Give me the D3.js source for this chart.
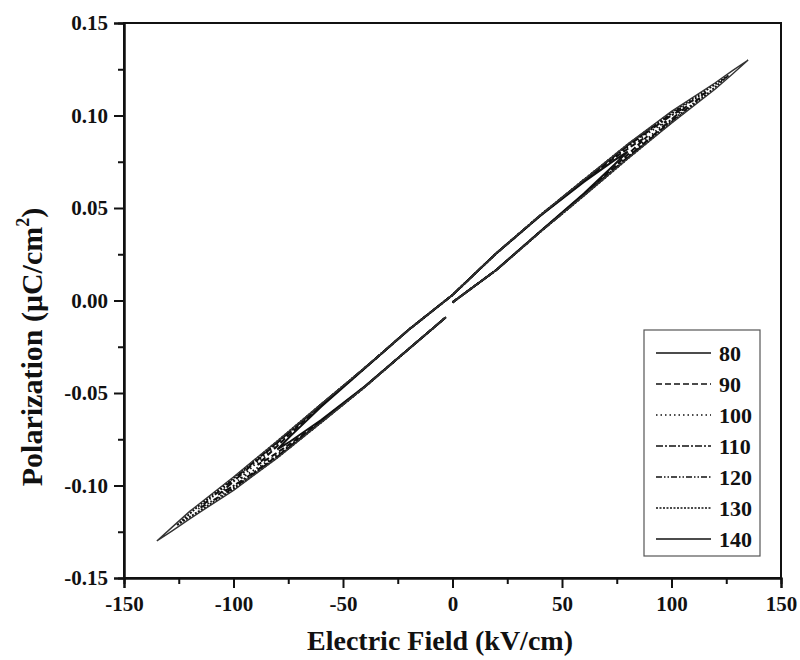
<!DOCTYPE html>
<html>
<head>
<meta charset="utf-8">
<script src="https://cdn.jsdelivr.net/npm/d3@7"></script>
<style>
  html, body { margin: 0; padding: 0; background: #fff; }
  svg text { font-family: "Liberation Serif", "Times New Roman", serif; font-weight: bold; fill: #111; }
</style>
</head>
<body>
<div id="plot"></div>
<script>
// legend labels (one loop per value)
const fieldLabels = ['80', '90', '100', '110', '120', '130', '140'];

// each loop: [E (kV/cm), P (uC/cm2)] in measured order
const loop80 = [[0,-0.001],[20,0.0165],[40,0.0373],[60,0.0579],[74,0.0735],[80,0.0805],[74,0.0759],[60,0.0641],[40,0.0457],[20,0.0255],[0,0.003],[-20,-0.0158],[-40,-0.0366],[-60,-0.0574],[-74,-0.0733],[-80,-0.0805],[-74,-0.0761],[-60,-0.0646],[-40,-0.0464],[-20,-0.0262],[-3,-0.009]];
const loop90 = [[0,-0.001],[20,0.0165],[40,0.0372],[60,0.0574],[74,0.0724],[83,0.0822],[89,0.0888],[83,0.0844],[74,0.0771],[60,0.0646],[40,0.0458],[20,0.0255],[0,0.003],[-20,-0.0158],[-40,-0.0365],[-60,-0.0569],[-74,-0.072],[-83,-0.082],[-89,-0.0888],[-83,-0.0846],[-74,-0.0774],[-60,-0.0651],[-40,-0.0465],[-20,-0.0262],[-3,-0.009]];
const loop100 = [[0,-0.001],[20,0.0165],[40,0.0371],[60,0.0571],[80,0.078],[91,0.0895],[98,0.0972],[91,0.0919],[80,0.083],[60,0.0649],[40,0.0459],[20,0.0255],[0,0.003],[-20,-0.0158],[-40,-0.0365],[-60,-0.0565],[-80,-0.0776],[-91,-0.0894],[-98,-0.0972],[-91,-0.092],[-80,-0.0834],[-60,-0.0655],[-40,-0.0466],[-20,-0.0262],[-3,-0.009]];
const loop110 = [[0,-0.001],[20,0.0165],[40,0.0371],[60,0.057],[80,0.0774],[92,0.0896],[100,0.0979],[107,0.105],[100,0.1001],[92,0.0936],[80,0.0836],[60,0.0651],[40,0.0459],[20,0.0255],[0,0.003],[-20,-0.0158],[-40,-0.0364],[-60,-0.0563],[-80,-0.0769],[-92,-0.0892],[-100,-0.0978],[-107,-0.105],[-100,-0.1002],[-92,-0.094],[-80,-0.0841],[-60,-0.0657],[-40,-0.0466],[-20,-0.0262],[-3,-0.009]];
const loop120 = [[0,-0.001],[20,0.0165],[40,0.0371],[60,0.0568],[80,0.077],[100,0.097],[108,0.1047],[116,0.1126],[108,0.1069],[100,0.101],[80,0.084],[60,0.0652],[40,0.0459],[20,0.0255],[0,0.003],[-20,-0.0158],[-40,-0.0364],[-60,-0.0562],[-80,-0.0765],[-100,-0.0967],[-108,-0.1045],[-116,-0.1126],[-108,-0.1071],[-100,-0.1013],[-80,-0.0845],[-60,-0.0658],[-40,-0.0466],[-20,-0.0262],[-3,-0.009]];
const loop130 = [[0,-0.001],[20,0.0165],[40,0.037],[60,0.0567],[80,0.0767],[100,0.0963],[117,0.1123],[126,0.1216],[117,0.1146],[100,0.1017],[80,0.0843],[60,0.0653],[40,0.046],[20,0.0255],[0,0.003],[-20,-0.0158],[-40,-0.0364],[-60,-0.0561],[-80,-0.0761],[-100,-0.0959],[-117,-0.1121],[-126,-0.1216],[-117,-0.1148],[-100,-0.1021],[-80,-0.0849],[-60,-0.0659],[-40,-0.0467],[-20,-0.0262],[-3,-0.009]];
const loop140 = [[0,-0.001],[20,0.0165],[40,0.037],[60,0.0567],[80,0.0766],[100,0.0959],[120,0.1143],[128,0.1226],[135,0.130],[128,0.1244],[120,0.1177],[100,0.1022],[80,0.0845],[60,0.0653],[40,0.046],[20,0.0255],[0,0.003],[-20,-0.0158],[-40,-0.0363],[-60,-0.056],[-80,-0.0759],[-100,-0.0954],[-120,-0.114],[-128,-0.1225],[-135,-0.130],[-128,-0.1245],[-120,-0.118],[-100,-0.1026],[-80,-0.0851],[-60,-0.066],[-40,-0.0467],[-20,-0.0262],[-3,-0.009]];

const loops = [loop80, loop90, loop100, loop110, loop120, loop130, loop140];
const dashes = [null, '6,3', '1.5,3', '7,2,2,2', '6,2,1.5,2,1.5,2', '2,1.5', null];

const xTicks = [-150, -100, -50, 0, 50, 100, 150];
const yTicks = [-0.15, -0.10, -0.05, 0.00, 0.05, 0.10, 0.15];

const W = 800, H = 660;
const margin = {top: 23, right: 19, bottom: 82, left: 124};

const svg = d3.select('#plot').append('svg')
    .attr('width', W)
    .attr('height', H);

const x = d3.scaleLinear().domain([-150, 150]).range([margin.left, W - margin.right]);
const y = d3.scaleLinear().domain([-0.15, 0.15]).range([H - margin.bottom, margin.top]);

// frame (top and right are plain lines)
svg.append('rect')
    .attr('x', x(-150)).attr('y', y(0.15))
    .attr('width', x(150) - x(-150)).attr('height', y(-0.15) - y(0.15))
    .attr('fill', 'none').attr('stroke', '#111').attr('stroke-width', 2);

// bottom axis
svg.append('g')
    .attr('transform', `translate(0,${y(-0.15)})`)
    .call(d3.axisBottom(x).tickValues(xTicks).tickSize(10).tickPadding(8).tickFormat(d3.format('d')));
svg.append('g')
    .attr('transform', `translate(0,${y(-0.15)})`)
    .call(d3.axisBottom(x).tickValues(d3.range(-125, 150, 50)).tickSize(6).tickFormat(''));

// left axis
svg.append('g')
    .attr('transform', `translate(${x(-150)},0)`)
    .call(d3.axisLeft(y).tickValues(yTicks).tickSize(10).tickPadding(6).tickFormat(d3.format('.2f')));
svg.append('g')
    .attr('transform', `translate(${x(-150)},0)`)
    .call(d3.axisLeft(y).tickValues([-0.125, -0.075, -0.025, 0.025, 0.075, 0.125]).tickSize(6).tickFormat(''));

svg.selectAll('.domain').attr('stroke', '#111').attr('stroke-width', 2);
svg.selectAll('.tick line').attr('stroke', '#111').attr('stroke-width', 2);
svg.selectAll('.tick text').attr('font-size', 21).attr('fill', '#111');
svg.selectAll('.tick text').each(function () {
    const t = d3.select(this);
    t.text(t.text().replace('\u2212', '-'));
});

// loops
const line = d3.line().x(d => x(d[0])).y(d => y(d[1]));
loops.forEach((data, i) => {
    svg.append('path')
        .datum(data)
        .attr('d', line)
        .attr('fill', 'none')
        .attr('stroke', i === 6 ? '#333' : '#111')
        .attr('stroke-width', i === 6 ? 1.4 : 2)
        .attr('stroke-dasharray', dashes[i]);
});

// legend
const lg = svg.append('g');
lg.append('rect')
    .attr('x', 644).attr('y', 330)
    .attr('width', 116).attr('height', 226)
    .attr('fill', '#fff').attr('stroke', '#555').attr('stroke-width', 1.2);
fieldLabels.forEach((lab, i) => {
    const yy = 353 + i * 31;
    lg.append('line')
        .attr('x1', 656).attr('x2', 711).attr('y1', yy).attr('y2', yy)
        .attr('stroke', '#111').attr('stroke-width', 1.6)
        .attr('stroke-dasharray', dashes[i]);
    lg.append('text')
        .attr('x', 719).attr('y', yy + 8)
        .attr('font-size', 22)
        .text(lab);
});

// axis titles
svg.append('text')
    .attr('x', 440).attr('y', 650)
    .attr('text-anchor', 'middle')
    .attr('font-size', 28)
    .text('Electric Field (kV/cm)');

const yt = svg.append('text')
    .attr('transform', `translate(42,347) rotate(-90)`)
    .attr('text-anchor', 'middle')
    .attr('font-size', 30);
yt.append('tspan').text('Polarization (\u03bcC/cm');
yt.append('tspan').attr('font-size', 18).attr('dy', -13).text('2');
yt.append('tspan').attr('dy', 13).text(')');
</script>
</body>
</html>
